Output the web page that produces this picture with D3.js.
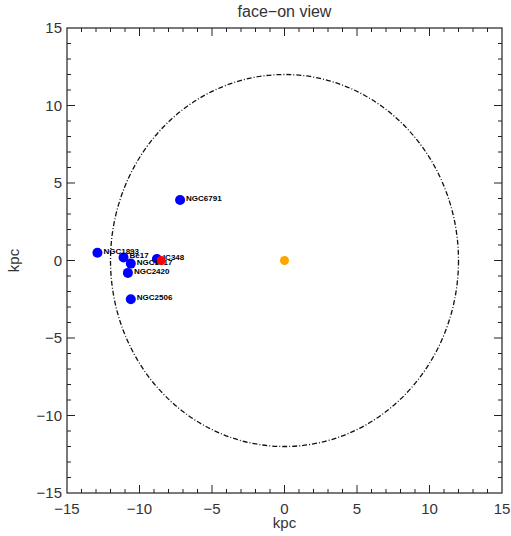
<!DOCTYPE html>
<html>
<head>
<meta charset="utf-8">
<script src="https://cdn.jsdelivr.net/npm/d3@7"></script>
<style>
  body { margin: 0; background: #fff; }
  text { font-family: "Liberation Sans", "DejaVu Sans", sans-serif; }
</style>
</head>
<body>
<svg width="511" height="536"></svg>
<script>
// Variables
var width = 511;
var height = 536;
var margin = { top: 28, right: 9, bottom: 43, left: 67 };

// cluster positions (kpc)
var clusterNames = ['NGC1893', 'Be17', 'NGC1817', 'NGC2420', 'IC348', 'NGC2506', 'NGC6791'];
var clusterX = [-12.9, -11.1, -10.6, -10.8, -8.8, -10.6, -7.2];
var clusterY = [0.5, 0.2, -0.2, -0.8, 0.1, -2.5, 3.9];

var sunPos = [-8.5, 0.0];
var centerPos = [0, 0];
var circleRadius = 12;

var tickValues = [-15, -10, -5, 0, 5, 10, 15];

var svg = d3.select('svg')
  .attr('width', width)
  .attr('height', height);

var x = d3.scaleLinear().domain([-15, 15]).range([margin.left, width - margin.right]);
var y = d3.scaleLinear().domain([-15, 15]).range([height - margin.bottom, margin.top]);

var ink = '#222';

// frame
svg.append('rect')
  .attr('x', x(-15)).attr('y', y(15))
  .attr('width', x(15) - x(-15)).attr('height', y(-15) - y(15))
  .attr('fill', 'none').attr('stroke', ink).attr('stroke-width', 1.2);

// ticks on all four sides (IDL style)
var minor = d3.range(-15, 16, 1);
function tickLen(v) { return v % 5 === 0 ? 8 : 4; }

var tg = svg.append('g').attr('stroke', ink).attr('stroke-width', 1);
minor.forEach(function (v) {
  var L = tickLen(v);
  if (v > -15 && v < 15) {
    tg.append('line').attr('x1', x(v)).attr('x2', x(v)).attr('y1', y(-15)).attr('y2', y(-15) - L);
    tg.append('line').attr('x1', x(v)).attr('x2', x(v)).attr('y1', y(15)).attr('y2', y(15) + L);
    tg.append('line').attr('y1', y(v)).attr('y2', y(v)).attr('x1', x(-15)).attr('x2', x(-15) + L);
    tg.append('line').attr('y1', y(v)).attr('y2', y(v)).attr('x1', x(15)).attr('x2', x(15) - L);
  }
});

var fmt = d3.format('d');

// x tick labels
svg.append('g').selectAll('text')
  .data(tickValues)
  .enter().append('text')
  .attr('x', function (d) { return x(d); })
  .attr('y', y(-15) + 21)
  .attr('text-anchor', 'middle')
  .attr('font-size', 15)
  .attr('fill', '#333')
  .text(fmt);

// y tick labels
svg.append('g').selectAll('text')
  .data(tickValues)
  .enter().append('text')
  .attr('x', x(-15) - 5)
  .attr('y', function (d) { return y(d) + 5; })
  .attr('text-anchor', 'end')
  .attr('font-size', 15)
  .attr('fill', '#333')
  .text(fmt);

// axis titles
svg.append('text')
  .attr('x', x(0)).attr('y', 528)
  .attr('text-anchor', 'middle').attr('font-size', 15).attr('fill', '#333')
  .text('kpc');

svg.append('text')
  .attr('transform', 'translate(19,' + y(0) + ') rotate(-90)')
  .attr('text-anchor', 'middle').attr('font-size', 15).attr('fill', '#333')
  .text('kpc');

svg.append('text')
  .attr('x', x(0)).attr('y', 17)
  .attr('text-anchor', 'middle').attr('font-size', 16).attr('fill', '#333')
  .text('face\u2212on view');

// solar circle
svg.append('ellipse')
  .attr('cx', x(0)).attr('cy', y(0))
  .attr('rx', x(circleRadius) - x(0))
  .attr('ry', y(0) - y(circleRadius))
  .attr('fill', 'none')
  .attr('stroke', '#111')
  .attr('stroke-width', 1.3)
  .attr('stroke-dasharray', '5,2,1,2');

// clusters
var clusters = clusterNames.map(function (n, i) {
  return { name: n, x: clusterX[i], y: clusterY[i] };
});

svg.append('g').selectAll('circle')
  .data(clusters)
  .enter().append('circle')
  .attr('cx', function (d) { return x(d.x); })
  .attr('cy', function (d) { return y(d.y); })
  .attr('r', 5)
  .attr('fill', '#0000ff');

svg.append('g').selectAll('text')
  .data(clusters)
  .enter().append('text')
  .attr('x', function (d) { return x(d.x) + 6; })
  .attr('y', function (d) { return y(d.y) + 1; })
  .attr('font-size', 8)
  .attr('font-weight', 'bold')
  .attr('fill', '#000')
  .text(function (d) { return d.name; });

// sun
svg.append('circle')
  .attr('cx', x(sunPos[0])).attr('cy', y(sunPos[1]))
  .attr('r', 4.5).attr('fill', '#ff0000');

// galactic centre
svg.append('circle')
  .attr('cx', x(centerPos[0])).attr('cy', y(centerPos[1]))
  .attr('r', 4.5).attr('fill', '#ffa500');
</script>
</body>
</html>
